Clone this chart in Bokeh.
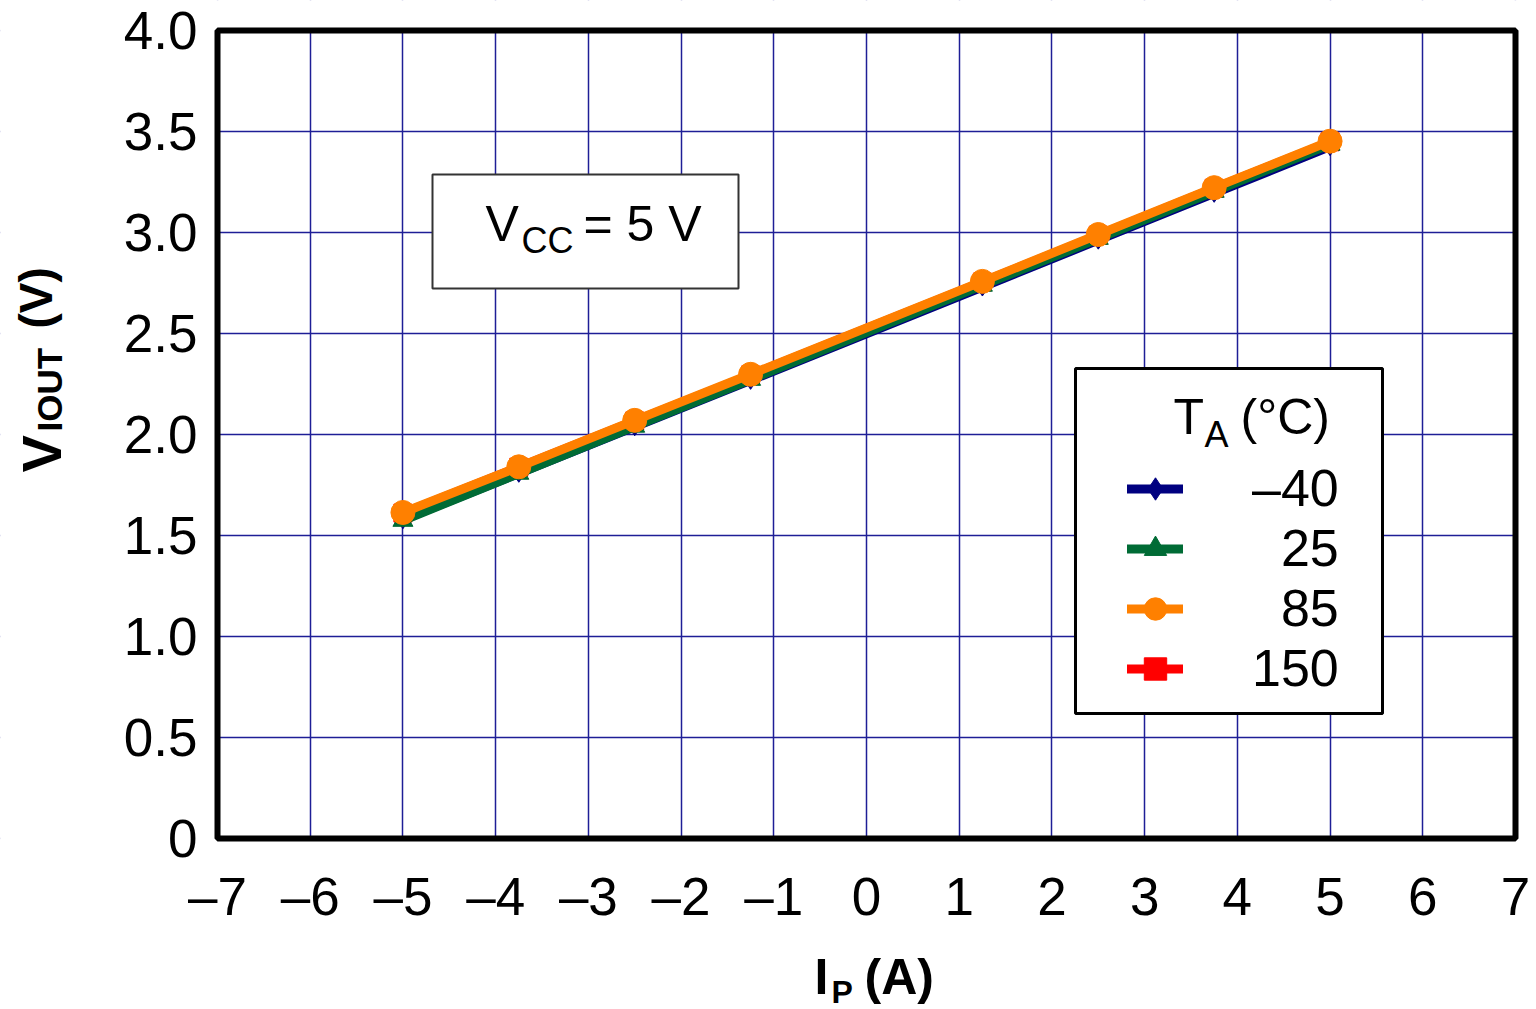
import numpy as np
from bokeh.plotting import figure
from bokeh.models import FixedTicker, Label, BoxAnnotation, Legend, LegendItem, Range1d
from bokeh.embed import file_html
from bokeh.resources import INLINE

# ---------------- data ----------------
ip_a = [-5, -3.75, -2.5, -1.25, 1.25, 2.5, 3.75, 5]
v_m40 = [1.578, 1.808, 2.038, 2.268, 2.730, 2.962, 3.194, 3.425]
v_25 = [1.574, 1.807, 2.040, 2.272, 2.738, 2.970, 3.203, 3.436]
v_85 = [1.614, 1.840, 2.070, 2.298, 2.758, 2.990, 3.222, 3.452]
v_150 = [1.611, 1.838, 2.067, 2.295, 2.755, 2.987, 3.219, 3.449]

series_labels = ["\u201340", "\u200725", "\u200785", "150"]
x_ticks = list(range(-7, 8))
x_tick_labels = [("\u2013" + str(abs(t))) if t < 0 else str(t) for t in x_ticks]
y_ticks = [0, 0.5, 1, 1.5, 2, 2.5, 3, 3.5, 4]
y_tick_labels = ["0", "0.5", "1.0", "1.5", "2.0", "2.5", "3.0", "3.5", "4.0"]

FONT = "Liberation Sans"
W, H = 1536, 1009
# data box edges in canvas pixels
FL, FT, FR, FB = 217, 30, 1515, 838
X0, X1, Y0, Y1 = -7, 7, 0, 4
UX = (FR - FL) / (X1 - X0)
UY = (FB - FT) / (Y1 - Y0)
XS, XE = X0 - FL / UX, X1 + (W - FR) / UX
YS, YE = Y0 - (H - FB) / UY, Y1 + FT / UY


def px(xp):
    return X0 + (xp - FL) / UX


def py(yp):
    return Y0 + (FB - yp) / UY


p = figure(width=W, height=H, x_range=Range1d(XS, XE), y_range=Range1d(YS, YE),
           output_backend="svg", toolbar_location=None, min_border=0,
           min_border_left=0, min_border_right=0, min_border_top=0, min_border_bottom=0)
p.background_fill_color = "white"
p.border_fill_color = "white"
p.outline_line_color = None

p.xaxis.fixed_location = Y0
p.yaxis.fixed_location = X0
p.xaxis.ticker = FixedTicker(ticks=x_ticks)
p.yaxis.ticker = FixedTicker(ticks=y_ticks)
p.xaxis.major_label_overrides = {t: s for t, s in zip(x_ticks, x_tick_labels)}
p.yaxis.major_label_overrides = {t: s for t, s in zip(y_ticks, y_tick_labels)}
for ax in (p.xaxis[0], p.yaxis[0]):
    ax.axis_line_color = None
    ax.major_tick_line_color = None
    ax.minor_tick_line_color = None
    ax.major_tick_out = 0
    ax.major_tick_in = 0
    ax.major_label_text_font = FONT
    ax.major_label_text_font_size = "53px"
    ax.major_label_text_color = "black"
p.xaxis.major_label_standoff = 28
p.yaxis.major_label_standoff = 20

p.xgrid.ticker = FixedTicker(ticks=x_ticks)
p.ygrid.ticker = FixedTicker(ticks=y_ticks)
p.grid.grid_line_color = "#1e1e96"
p.grid.grid_line_width = 1.5
p.grid.grid_line_alpha = 1

# white covers so the grid stays inside the data box
pad = 0.2
for l, r, b, t in [(XS - pad, X0, YS - pad, YE + pad), (X1, XE + pad, YS - pad, YE + pad),
                   (XS - pad, XE + pad, YS - pad, Y0), (XS - pad, XE + pad, Y1, YE + pad)]:
    p.add_layout(BoxAnnotation(left=l, right=r, bottom=b, top=t, fill_color="white",
                               fill_alpha=1, line_color=None, level="glyph"))

# ---------------- series ----------------
styles = {
    "150": (v_150, "#ff0000", "square", 18),
    "-40": (v_m40, "#000080", "diamond", 18),
    "25": (v_25, "#006b35", "triangle", 20),
    "85": (v_85, "#ff8000", "circle", 24),
}
rend = {}
for key in ["150", "-40", "25", "85"]:
    ys, col, mk, sz = styles[key]
    lr = p.line(ip_a, ys, line_color=col, line_width=9, line_join="round", line_cap="round")
    sr = p.scatter(ip_a, ys, marker=mk, size=sz, fill_color=col, line_color=col)
    rend[key] = [lr, sr]

# thick frame around the data box
p.add_layout(BoxAnnotation(left=X0, right=X1, bottom=Y0, top=Y1, fill_color=None,
                           fill_alpha=0, line_color="black", line_alpha=1, line_width=6))

# ---------------- annotation boxes ----------------
p.add_layout(BoxAnnotation(left=px(432), right=px(738), top=py(174), bottom=py(288),
                           fill_color="white", fill_alpha=1, line_color="#333333",
                           line_alpha=1, line_width=2))
p.add_layout(BoxAnnotation(left=px(1075), right=px(1382), top=py(368), bottom=py(713),
                           fill_color="white", fill_alpha=1, line_color="black",
                           line_alpha=1, line_width=3))

legend = Legend(
    items=[LegendItem(label=lab, renderers=rend[k])
           for lab, k in zip(series_labels, ["-40", "25", "85", "150"])],
    location=(1127, H - 698), padding=0, margin=0,
    border_line_color=None, background_fill_alpha=0,
    glyph_width=56, glyph_height=57, spacing=0, label_standoff=69,
    label_text_font=FONT, label_text_font_size="52px", label_text_color="black")
p.add_layout(legend)

SHIFT = 0.38  # measured offset of the rendered baseline, in em


def lab(x, y, text, size, bold=False, rotated=False):
    if rotated:
        ax, ay, ang = x - SHIFT * size, y, np.pi / 2
    else:
        ax, ay, ang = x, y - SHIFT * size, 0.0
    p.add_layout(Label(x=px(ax), y=py(ay), text=text, text_font=FONT,
                       text_font_size=f"{size}px",
                       text_font_style="bold" if bold else "normal",
                       text_color="black", text_align="left",
                       text_baseline="alphabetic", angle=ang))


# V_CC = 5 V
lab(485, 242, "V", 50)
lab(521, 254, "CC", 36)
lab(583, 242, "= 5 V", 50)
# legend title T_A (°C)
lab(1173, 435, "T", 50)
lab(1204, 448, "A", 36)
lab(1240, 435, "(\u00b0C)", 50)
# x axis label I_P (A)
lab(814, 995, "I", 50, bold=True)
lab(831, 1004, "P", 32, bold=True)
lab(864, 995, "(A)", 50, bold=True)
# y axis label V_IOUT (V)
lab(62, 472, "V", 56, bold=True, rotated=True)
lab(62, 431, "IOUT", 35, bold=True, rotated=True)
lab(53, 328, "(V)", 46, bold=True, rotated=True)

open("out.html", "w").write(file_html(p, INLINE))
